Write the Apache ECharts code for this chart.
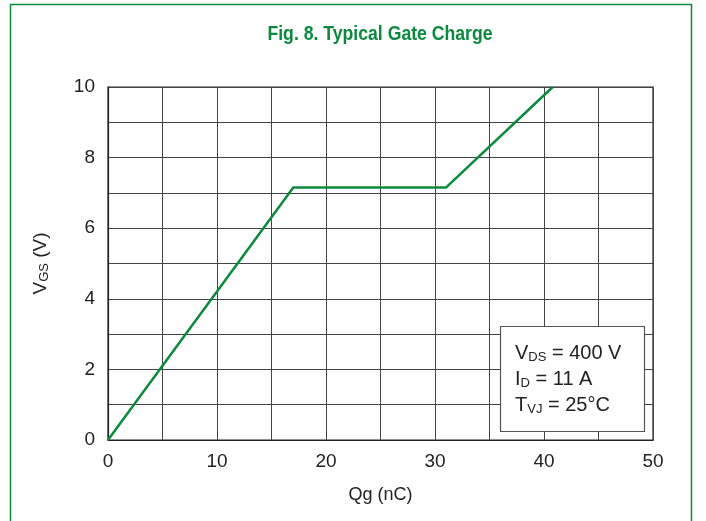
<!DOCTYPE html>
<html><head><meta charset="utf-8">
<script src="https://cdn.jsdelivr.net/npm/echarts@6/dist/echarts.min.js"></script>
<style>html,body{margin:0;padding:0;background:#fff}#c{width:706px;height:521px}</style>
</head><body><div id="c"></div>
<script>
const qg = [0, 17, 31, 40.8];
const vgs = [0, 7.15, 7.15, 10];
const xTicks = [0, 10, 20, 30, 40, 50];
const yTicks = [0, 2, 4, 6, 8, 10];
const green = '#0b8a3e';
const chart = echarts.init(document.getElementById('c'), null, {renderer: 'canvas'});
const font = 'Liberation Sans, Arial, sans-serif';
chart.setOption({
  animation: false,
  grid: {left: 108, right: 53, top: 87, bottom: 81, show: true, borderColor: '#222', borderWidth: 1.2},
  xAxis: {
    type: 'value', min: 0, max: 50, interval: 5,
    name: 'Qg (nC)', nameLocation: 'middle', nameGap: 46,
    nameTextStyle: {fontFamily: font, fontSize: 18, color: '#222'},
    axisLine: {show: true, lineStyle: {color: '#222', width: 1.2}},
    axisTick: {show: false},
    axisLabel: {fontFamily: font, fontSize: 19, color: '#222', margin: 12,
      formatter: v => xTicks.includes(v) ? String(v) : ''},
    splitLine: {show: true, lineStyle: {color: '#444', width: 1}}
  },
  yAxis: {
    type: 'value', min: 0, max: 10, interval: 1,
    name: '{m|V}{s|GS}{m| (V)}', nameLocation: 'middle', nameGap: 57, nameRotate: 90,
    nameTextStyle: {rich: {
      m: {fontFamily: font, fontSize: 19, color: '#222'},
      s: {fontFamily: font, fontSize: 13, color: '#222', padding: [8, 0, 0, 0]}
    }},
    axisLine: {show: true, lineStyle: {color: '#222', width: 1.2}},
    axisTick: {show: false},
    axisLabel: {fontFamily: font, fontSize: 19, color: '#222', margin: 13,
      formatter: v => yTicks.includes(v) ? String(v) : ''},
    splitLine: {show: true, lineStyle: {color: '#444', width: 1}}
  },
  series: [{
    type: 'line', data: qg.map((x, i) => [x, vgs[i]]),
    symbol: 'none', lineStyle: {color: green, width: 2.5}, z: 5
  }],
  graphic: [
    {type: 'text', x: 380, y: 34, scaleX: 0.84, z: 101, style: {
      text: 'Fig. 8. Typical Gate Charge', align: 'center', verticalAlign: 'middle',
      font: 'bold 21px Liberation Sans, Arial, sans-serif', fill: green}},
    {type: 'rect', shape: {x: 10.5, y: 4.5, width: 681, height: 540}, style: {fill: 'none', stroke: green, lineWidth: 1.5}, z: 100},
    {type: 'rect', shape: {x: 500.5, y: 326.5, width: 144, height: 105}, style: {fill: '#fff', stroke: '#555', lineWidth: 1.2}, z: 100},
    {type: 'text', x: 515, y: 340, z: 101, style: {
      text: '{m|V}{s|DS}{m| = 400 V}\n{m|I}{s|D}{m| = 11 A}\n{m|T}{s|VJ}{m| = 25°C}',
      rich: {
        m: {fontFamily: font, fontSize: 20, fill: '#222', lineHeight: 26},
        s: {fontFamily: font, fontSize: 13, fill: '#222', lineHeight: 26, padding: [8, 0, 0, 0]}
      }
    }}
  ]
});
</script></body></html>
